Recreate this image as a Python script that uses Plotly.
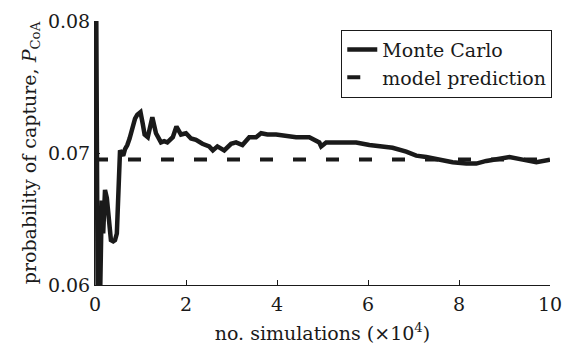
import plotly.graph_objects as go

# Monte Carlo running estimate (x in units of 10^4 simulations)
mc_x = [0.0, 0.03, 0.06, 0.09, 0.12, 0.15, 0.18, 0.22, 0.26, 0.30, 0.35, 0.40, 0.44,
        0.48, 0.51, 0.55, 0.58, 0.62, 0.66, 0.71, 0.76, 0.83, 0.88, 0.93, 1.00,
        1.05, 1.09, 1.16, 1.21, 1.26, 1.34, 1.45, 1.52, 1.59, 1.71, 1.79, 1.89,
        2.00, 2.11, 2.22, 2.36, 2.51, 2.59, 2.69, 2.84, 2.99, 3.10, 3.24, 3.39,
        3.54, 3.65, 3.79, 3.98, 4.20, 4.42, 4.71, 4.93, 4.97, 5.08, 5.37, 5.74,
        6.03, 6.25, 6.54, 6.84, 7.06, 7.28, 7.57, 7.86, 8.16, 8.38, 8.60, 8.81,
        9.11, 9.40, 9.70, 10.0]
mc_y = [0.100, 0.080, 0.058, 0.055, 0.0645, 0.0664, 0.0639, 0.0672, 0.0666, 0.0652,
        0.0634, 0.0633, 0.0634, 0.0639, 0.0664, 0.0702, 0.0700, 0.0698, 0.0703,
        0.0706, 0.0711, 0.0722, 0.0726, 0.0729, 0.0731, 0.0722, 0.0714, 0.0712,
        0.0720, 0.0727, 0.0715, 0.0708, 0.0709, 0.0708, 0.0712, 0.0720, 0.0714,
        0.0715, 0.0711, 0.0710, 0.0707, 0.0705, 0.0702, 0.0705, 0.0702, 0.0707,
        0.0708, 0.0706, 0.0712, 0.0712, 0.0715, 0.0714, 0.0714, 0.0713, 0.0712,
        0.0712, 0.0708, 0.0705, 0.0708, 0.0708, 0.0708, 0.0706, 0.0705, 0.0704,
        0.0701, 0.0698, 0.0697, 0.0695, 0.0693, 0.0692, 0.0692, 0.0694, 0.0695,
        0.0697, 0.0695, 0.0693, 0.0695]

model_x = [0.0, 10.0]
model_y = [0.0695, 0.0695]

x_ticks = [0, 2, 4, 6, 8, 10]
y_ticks = [0.06, 0.07, 0.08]
y_tick_labels = ["0.06", "0.07", "0.08"]

FONT = "DejaVu Serif"

fig = go.Figure()
fig.add_trace(go.Scatter(x=model_x, y=model_y, mode="lines", name="model prediction",
                         line=dict(color="#1a1a1a", width=4, dash="13px,20px")))
fig.add_trace(go.Scatter(x=mc_x, y=mc_y, mode="lines", name="Monte Carlo",
                         line=dict(color="#1a1a1a", width=4.5)))

fig.update_layout(
    width=565, height=345,
    margin=dict(l=95, r=15, t=21, b=60),
    paper_bgcolor="white", plot_bgcolor="white",
    font=dict(family=FONT, size=19, color="#1a1a1a"),
    showlegend=True,
    legend=dict(x=1.005, xanchor="right", y=0.967, yanchor="top",
                bgcolor="white", bordercolor="#1a1a1a", borderwidth=1,
                font=dict(family=FONT, size=19), traceorder="reversed",
                tracegroupgap=0, itemwidth=30),
    xaxis=dict(range=[0, 10], tickvals=x_ticks, ticks="inside", ticklen=5,
               tickcolor="#1a1a1a", showline=True, linecolor="#1a1a1a", linewidth=1,
               showgrid=False, zeroline=False, mirror=False, automargin=False,
               tickfont=dict(family=FONT, size=19), ticklabelstandoff=2,
               title=dict(text="no. simulations (×10<sup>4</sup>)", standoff=12,
                          font=dict(family=FONT, size=19))),
    yaxis=dict(range=[0.06, 0.08], tickvals=y_ticks, ticktext=y_tick_labels,
               ticks="inside", ticklen=5, tickcolor="#1a1a1a", showline=True,
               linecolor="#1a1a1a", linewidth=1, showgrid=False, zeroline=False,
               automargin=False, tickfont=dict(family=FONT, size=19),
               title=dict(text="probability of capture, <i>P</i><sub>CoA</sub>",
                          standoff=6, font=dict(family=FONT, size=19))),
)

fig.write_html("out.html")
